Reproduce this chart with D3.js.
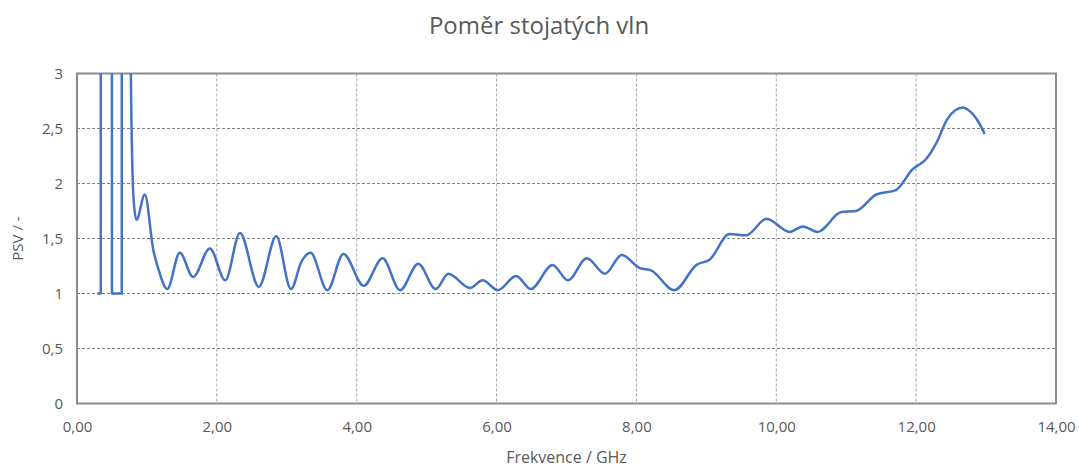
<!DOCTYPE html>
<html>
<head>
<meta charset="utf-8">
<script src="https://cdn.jsdelivr.net/npm/d3@7"></script>
<style>
  body { margin: 0; background: #fff; }
  text { font-family: "Open Sans", sans-serif; fill: #595959; }
</style>
</head>
<body>
<svg width="1079" height="468"></svg>
<script>
// frekvence (GHz) a PSV
var freq = [0.29, 0.34, 0.35, 0.49, 0.50, 0.64, 0.65, 0.75, 0.77, 0.81, 0.85, 0.97, 1.09, 1.17, 1.29,
  1.47, 1.66, 1.90, 2.12, 2.33, 2.60, 2.85, 3.06, 3.21, 3.34, 3.58, 3.81, 4.10, 4.37, 4.62,
  4.88, 5.13, 5.31, 5.62, 5.80, 6.02, 6.28, 6.49, 6.80, 7.02, 7.29, 7.55, 7.79, 8.05, 8.21,
  8.54, 8.86, 9.05, 9.33, 9.57, 9.86, 10.19, 10.38, 10.59, 10.93, 11.14, 11.43, 11.71, 11.95,
  12.14, 12.29, 12.45, 12.67, 12.74, 12.90, 12.98];
var psv = [1.00, 1.00, 40, 40, 1.00, 1.00, 40, 40, 3.0, 1.85, 1.67, 1.90, 1.40, 1.21, 1.04,
  1.37, 1.15, 1.41, 1.12, 1.55, 1.06, 1.52, 1.04, 1.29, 1.37, 1.03, 1.36, 1.07, 1.32, 1.03,
  1.27, 1.04, 1.18, 1.05, 1.12, 1.03, 1.16, 1.04, 1.26, 1.12, 1.32, 1.18, 1.35, 1.23, 1.21,
  1.03, 1.26, 1.31, 1.54, 1.53, 1.68, 1.56, 1.61, 1.56, 1.74, 1.75, 1.90, 1.94, 2.13,
  2.22, 2.37, 2.59, 2.69, 2.67, 2.55, 2.45];
var xTicks = [0, 2, 4, 6, 8, 10, 12, 14];
var yTicks = [0, 0.5, 1, 1.5, 2, 2.5, 3];

var data = freq.map(function (f, i) { return { x: f, y: psv[i] }; });

var svg = d3.select("svg"),
  margin = { top: 73.5, right: 23, bottom: 64.5, left: 77 },
  width = +svg.attr("width") - margin.left - margin.right,
  height = +svg.attr("height") - margin.top - margin.bottom;

var fmtX = function (d) { return d3.format(".2f")(d).replace(".", ","); };
var fmtY = function (d) { return String(d).replace(".", ","); };

var xScale = d3.scaleLinear().domain([0, 14]).range([0, width]);
var yScale = d3.scaleLinear().domain([0, 3]).range([height, 0]);

var g = svg.append("g")
  .attr("transform", "translate(" + margin.left + "," + margin.top + ")");

svg.append("defs").append("clipPath").attr("id", "plot")
  .append("rect").attr("width", width).attr("height", height);

// mřížka
g.selectAll(".vgrid").data(xTicks.slice(1, -1)).enter().append("line")
  .attr("x1", xScale).attr("x2", xScale).attr("y1", 0).attr("y2", height)
  .attr("stroke", "#a6a6a6").attr("stroke-width", 1).attr("stroke-dasharray", "3,2");
g.selectAll(".hgrid").data(yTicks.slice(1, -1)).enter().append("line")
  .attr("y1", yScale).attr("y2", yScale).attr("x1", 0).attr("x2", width)
  .attr("stroke", "#808080").attr("stroke-width", 1).attr("stroke-dasharray", "3,2");

// rámeček
g.append("rect").attr("width", width).attr("height", height)
  .attr("fill", "none").attr("stroke", "#8c8c8c").attr("stroke-width", 2);

// osy
var xAxis = g.append("g").attr("transform", "translate(0," + height + ")")
  .call(d3.axisBottom(xScale).tickValues(xTicks).tickFormat(fmtX).tickSize(0).tickPadding(18));
var yAxis = g.append("g")
  .call(d3.axisLeft(yScale).tickValues(yTicks).tickFormat(fmtY).tickSize(0).tickPadding(14));
[xAxis, yAxis].forEach(function (a) {
  a.select(".domain").remove();
  a.selectAll("text").style("font-size", "15px").attr("fill", "#595959")
    .style("font-family", "'Open Sans', sans-serif");
});

// křivka
var lineGenerator = d3.line()
  .x(function (d) { return xScale(d.x); })
  .y(function (d) { return yScale(d.y); })
  .curve(d3.curveMonotoneX);

g.append("path")
  .datum(data)
  .attr("clip-path", "url(#plot)")
  .attr("fill", "none")
  .attr("stroke", "#4472c4")
  .attr("stroke-width", 2.5)
  .attr("stroke-linejoin", "round")
  .attr("d", lineGenerator);

// popisky
svg.append("text").attr("x", 539).attr("y", 34).attr("text-anchor", "middle")
  .style("font-size", "24px").text("Poměr stojatých vln");
svg.append("text").attr("x", margin.left + width / 2).attr("y", 463).attr("text-anchor", "middle")
  .style("font-size", "16px").text("Frekvence / GHz");
svg.append("text")
  .attr("transform", "translate(23," + (margin.top + height / 2) + ") rotate(-90)")
  .attr("text-anchor", "middle").style("font-size", "15px").text("PSV / -");
</script>
</body>
</html>
